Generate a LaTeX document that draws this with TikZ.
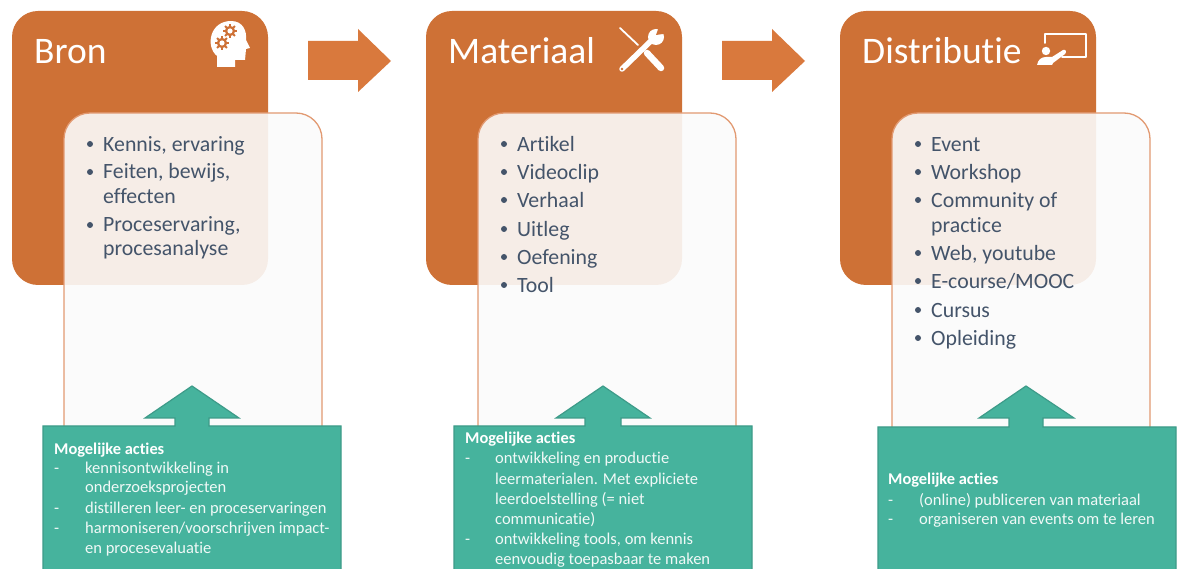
\documentclass[tikz,border=0pt]{standalone}
\usepackage{fontspec}
\setmainfont[RawFeature={-liga;-clig}]{Carlito}
\definecolor{brick}{HTML}{CE7136}
\definecolor{arrowbrick}{HTML}{D9793D}
\definecolor{edge}{HTML}{E29A72}
\definecolor{sheet}{HTML}{FBFBFB}
\definecolor{slate}{HTML}{44546A}
\definecolor{teal}{HTML}{46B39D}
\definecolor{tealedge}{HTML}{3D9B89}
\tikzset{
  header/.style={fill=brick},
  panel/.style={draw=edge,line width=1.3pt,fill=sheet,fill opacity=0.9},
  action/.style={draw=tealedge,line width=1.2pt,fill=teal},
  flow/.style={fill=arrowbrick},
  title/.style={anchor=base west,inner sep=0pt,text=white,font=\fontsize{37.5}{37.5}\selectfont},
  item/.style={anchor=base west,inner sep=0pt,text=slate,font=\fontsize{21.8}{21.8}\selectfont},
  dot/.style={fill=slate},
  acthead/.style={anchor=base west,inner sep=0pt,text=white,font=\fontsize{16.4}{16.4}\selectfont\bfseries},
  actline/.style={anchor=base west,inner sep=0pt,text=white!92!teal,font=\fontsize{16.5}{16.5}\selectfont},
}
\begin{document}
\begin{tikzpicture}[x=1pt,y=-1pt]
  \useasboundingbox (0,0) rectangle (1179,569);
  \fill[white] (0,0) rectangle (1179,569);

  % orange blocks
  \fill[header,rounded corners=26pt] (12,11) rectangle (268,285);
  \fill[header,rounded corners=26pt] (426,11) rectangle (682,285);
  \fill[header,rounded corners=26pt] (840,11) rectangle (1096,285);

  \node[title] (bron) at (34,64) {Bron};
  \node[title] (materiaal) at (448,64) {Materiaal};
  \node[title] (distributie) at (862,64) {Distributie};

  % arrows between the blocks
  \fill[flow] (308,41) -- (358,41) -- (358,29) -- (391,61) -- (358,92) -- (358,80) -- (308,80) -- cycle;
  \fill[flow] (722,41) -- (772,41) -- (772,29) -- (805,61) -- (772,92) -- (772,80) -- (722,80) -- cycle;

  % light panels
  \filldraw[panel,rounded corners=26pt] (64,440) -- (64,113) -- (322,113) -- (322,440);
  \filldraw[panel,rounded corners=26pt] (478,440) -- (478,113) -- (736,113) -- (736,440);
  \filldraw[panel,rounded corners=26pt] (892,440) -- (892,113) -- (1150,113) -- (1150,440);

  % head icon
  \fill[white] (217,67) -- (217,56) .. controls (205,46) and (210,21) .. (231,21)
    .. controls (243,21) and (247,31) .. (246,40) -- (250,48) -- (246,49) -- (245,60)
    -- (235,60) -- (235,67) -- cycle;
  \foreach \gx/\gy in {230/31,222/43} {
    \fill[brick] (\gx,\gy) circle (5.2pt);
    \foreach \ang in {0,45,...,315}
      \draw[brick,line width=2pt] (\gx,\gy) -- ++(\ang:7pt);
    \fill[white] (\gx,\gy) circle (2.6pt);
  }

  % tools icon
  \draw[white,line width=1.8pt,line cap=round] (620,28) -- (638,45);
  \draw[white,line width=6.5pt,line cap=round] (647,53) -- (661,68);
  \draw[white,line width=5.5pt,line cap=round] (622,69) -- (654,38);
  \fill[white] (656,37) circle (8pt);
  \fill[brick] (656,35) -- (660,24) -- (670,33) -- cycle;
  \fill[brick] (622,69) circle (1.4pt);

  % presenter icon
  \draw[white,line width=2pt,line cap=round,line join=round] (1045,43) -- (1045,34) -- (1086,34) -- (1086,57) -- (1062,57);
  \fill[white] (1046,51) circle (4.2pt);
  \fill[white] (1037,65) .. controls (1038,60) and (1041,57) .. (1046,57) -- (1052,57)
    -- (1063,50) .. controls (1066,49) and (1067,52) .. (1065,54) -- (1053,63) -- (1052,65) -- cycle;

  % lists
  \foreach \ypos/\txt [count=\i] in {152/{Kennis, ervaring},179/{Feiten, bewijs,},204/{effecten},232/{Proceservaring,},256/{procesanalyse}}
    \node[item] (bronitem\i) at (103,\ypos) {\txt};
  \foreach \ypos in {144,172,225}
    \fill[dot] (90,\ypos) circle (3pt);

  \foreach \ypos/\txt [count=\i] in {152/Artikel,180/Videoclip,208/Verhaal,237/Uitleg,265/Oefening,293/Tool} {
    \node[item] (matitem\i) at (517,\ypos) {\txt};
    \fill[dot] (504,\ypos-8) circle (3pt);
  }

  \foreach \ypos/\txt [count=\i] in {152/Event,180/Workshop,208/{Community of},233/practice,261/{Web, youtube},289/{E-course/MOOC},318/Cursus,346/Opleiding}
    \node[item] (distitem\i) at (931,\ypos) {\txt};
  \foreach \ypos in {144,172,200,253,281,310,338}
    \fill[dot] (918,\ypos) circle (3pt);

  % green boxes with their arrows
  \filldraw[action] (43,575) -- (43,426) -- (175,426) -- (175,418) -- (145,418) -- (192,386) -- (239,418) -- (209,418) -- (209,426) -- (341,426) -- (341,575);
  \filldraw[action] (454,575) -- (454,426) -- (585,426) -- (585,418) -- (556,418) -- (603,386) -- (650,418) -- (621,418) -- (621,426) -- (752,426) -- (752,575);
  \filldraw[action] (878,575) -- (878,427) -- (1009,427) -- (1009,418) -- (979,418) -- (1026,386) -- (1074,418) -- (1043,418) -- (1043,427) -- (1176,427) -- (1176,575);

  \node[acthead] (bronhead) at (54,454) {Mogelijke acties};
  \foreach \ypos/\txt [count=\i] in {473/{kennisontwikkeling in},493/{onderzoeksprojecten},513/{distilleren leer- en proceservaringen},533/{harmoniseren/voorschrijven impact-},553/{en procesevaluatie}}
    \node[actline] (bronact\i) at (85,\ypos) {\txt};
  \foreach \ypos [count=\i] in {473,513,533}
    \node[actline] (brondash\i) at (54,\ypos) {-};

  \node[acthead] (mathead) at (465,444) {Mogelijke acties};
  \foreach \ypos/\txt [count=\i] in {464/{ontwikkeling en productie},484/{leermaterialen. Met expliciete},504/{leerdoelstelling (= niet},524/{communicatie)},544/{ontwikkeling tools, om kennis},564/{eenvoudig toepasbaar te maken}}
    \node[actline] (matact\i) at (495,\ypos) {\txt};
  \foreach \ypos [count=\i] in {464,544}
    \node[actline] (matdash\i) at (465,\ypos) {-};

  \node[acthead] (disthead) at (888,484) {Mogelijke acties};
  \foreach \ypos/\txt [count=\i] in {505/{(online) publiceren van materiaal},524/{organiseren van events om te leren}} {
    \node[actline] (distact\i) at (919,\ypos) {\txt};
    \node[actline] (distdash\i) at (888,\ypos) {-};
  }
\end{tikzpicture}
\end{document}
